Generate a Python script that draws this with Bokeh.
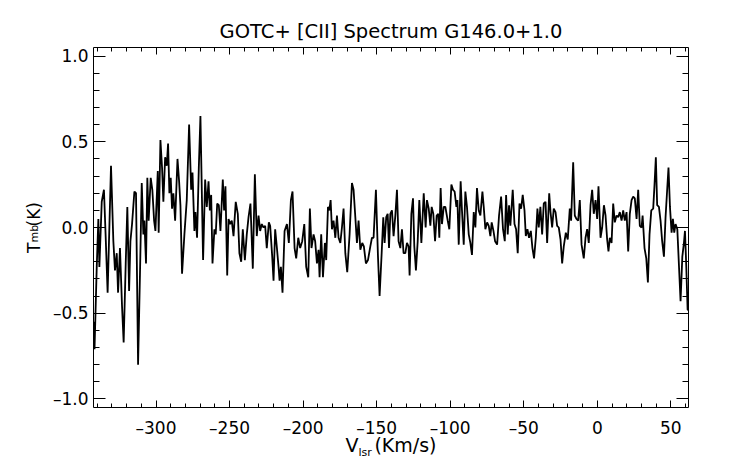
from bokeh.plotting import figure
from bokeh.models import Range1d, LinearAxis, FixedTicker, Title
from bokeh.embed import file_html
from bokeh.resources import INLINE

# ---- data ----
vel_a = [-342.5,-341.8,-340.3,-339.2,-338.5,-336.9,-335.4,-334.2,-332.9,-330.6,-329.0,-327.9,-326.7,-325.8,-324.5,-323.1,-322.0,-320.6,-319.5,-318.3,-317.4,-316.3,-314.7,-313.6,-312.2,-310.9,-309.7,-308.6,-307.9,-306.8,-305.9,-305.0,-303.6,-302.5,-301.3,-300.4,-298.8,-298.2,-297.0,-295.9,-295.0,-293.8,-292.7,-291.8,-290.9,-290.0,-289.1,-288.2,-287.0,-285.4,-284.3,-283.4,-282.3,-280.7,-279.1,-277.5,-276.1,-275.2,-273.9,-273.2,-272.1,-270.9,-269.8,-268.0,-266.6,-265.5,-264.3,-263.4,-262.5,-261.6,-260.3,-259.4,-258.4,-257.3,-256.2,-254.6,-253.7,-252.8,-251.6,-250.7,-249.6,-248.5,-247.3,-245.8,-244.4,-243.3,-242.1,-241.0,-239.6,-238.3]
tmb_a = [-0.55,-0.71,-0.23,0.05,-0.23,0.15,0.22,-0.06,-0.38,0.36,-0.08,-0.25,-0.15,-0.38,-0.12,-0.46,-0.67,-0.21,0.12,-0.37,-0.08,0.02,0.21,0.20,-0.80,-0.27,0.26,-0.04,0.04,-0.21,0.29,0.04,0.29,0.22,0.04,-0.02,0.33,-0.03,0.51,0.35,0.15,0.41,0.36,0.49,0.20,0.29,0.11,0.20,0.04,0.40,0.27,0.13,-0.27,-0.04,0.16,0.60,0.22,0.32,-0.02,0.09,-0.06,0.35,0.65,-0.19,0.28,0.12,0.27,0.10,0.19,-0.21,-0.01,-0.04,0.14,0.13,-0.02,0.28,0.10,0.24,-0.28,0.05,0.02,0.04,-0.05,0.15,0.08,-0.15,-0.20,-0.01,-0.19,-0.04]

vel_b = [-237.1,-235.8,-234.2,-232.8,-231.5,-230.3,-229.2,-228.1,-226.9,-225.8,-224.7,-223.3,-222.4,-221.0,-220.1,-219.0,-217.8,-216.7,-216.0,-215.1,-214.0,-212.6,-211.0,-209.7,-208.3,-207.2,-205.8,-204.7,-203.3,-202.0,-200.6,-199.2,-197.9,-196.5,-195.4,-194.3,-192.9,-191.8,-190.6,-189.5,-188.8,-187.7,-186.5,-185.2,-184.3,-183.1,-182.2,-181.3,-180.4,-179.3,-178.1,-177.0,-175.9,-174.7,-173.6,-172.5,-171.3,-170.0,-168.4,-166.8,-165.7,-164.5,-163.4,-162.3,-161.1,-159.8,-158.7,-157.3,-155.9,-154.3,-153.2,-152.1,-150.5,-149.1,-148.0,-146.6,-145.5,-144.6,-143.5,-142.5,-141.6]
tmb_b = [0.06,0.14,-0.24,0.31,-0.05,0.07,-0.02,0.02,0.00,0.01,-0.12,0.03,0.01,-0.17,-0.31,-0.01,-0.12,-0.23,-0.31,-0.23,-0.38,-0.02,0.02,-0.09,0.16,0.21,-0.12,-0.18,-0.06,-0.12,-0.08,0.02,-0.23,-0.29,0.11,-0.12,-0.04,-0.08,-0.21,-0.13,-0.29,-0.04,-0.29,-0.09,-0.19,0.12,0.10,0.16,-0.01,0.04,-0.06,0.07,-0.06,-0.09,0.00,0.11,-0.15,-0.26,-0.04,0.26,0.22,0.06,-0.09,0.04,-0.13,-0.09,-0.11,-0.21,-0.19,-0.11,-0.06,-0.06,0.22,-0.17,-0.40,-0.15,0.06,-0.09,0.06,0.08,-0.12]

vel_c = [-140.7,-139.6,-138.5,-137.3,-136.2,-135.1,-133.9,-132.8,-131.7,-130.5,-129.4,-128.3,-127.6,-126.4,-125.3,-124.4,-123.3,-122.1,-121.0,-119.6,-118.0,-116.7,-115.8,-114.6,-113.5,-112.6,-111.5,-110.3,-109.2,-108.1,-107.4,-106.5,-105.6,-104.4,-103.3,-101.7,-100.6,-99.2,-98.1,-97.0,-95.8,-95.1,-94.2,-92.9,-92.0,-90.8,-89.7,-88.6,-87.4,-86.3,-85.2,-84.0,-82.9,-81.8,-80.6,-79.5,-78.1,-77.2,-76.1,-74.9,-73.8,-72.7,-71.8,-70.6,-69.5,-68.1,-66.8,-65.4,-64.1,-62.9,-62.0,-60.9,-60.0,-59.1,-57.5,-56.3,-55.2,-54.1,-52.9,-51.8,-50.7,-49.5,-48.6,-47.5,-46.4,-45.2,-44.1,-43.0,-41.8,-40.7,-39.8]
tmb_c = [0.08,0.10,-0.05,0.07,0.22,-0.08,-0.12,-0.01,-0.15,-0.15,-0.09,-0.11,-0.28,0.08,0.17,-0.11,-0.25,-0.08,0.16,-0.09,0.20,0.00,0.16,0.11,0.01,0.12,0.08,-0.08,0.07,0.08,-0.06,0.23,0.02,0.12,0.12,0.04,-0.01,0.25,0.22,0.21,0.12,0.16,-0.10,0.27,0.10,-0.10,0.21,0.12,-0.04,-0.09,-0.16,0.09,0.00,0.23,0.10,0.07,0.21,0.12,-0.01,0.03,0.01,-0.05,0.03,-0.02,-0.08,-0.10,0.07,0.18,-0.01,-0.08,0.19,-0.04,0.13,0.01,0.22,0.02,-0.01,-0.15,0.14,0.11,0.19,0.10,-0.05,-0.01,-0.06,-0.02,-0.12,-0.18,-0.06,0.11,0.00]

vel_d = [-38.7,-37.5,-36.4,-35.2,-34.1,-32.7,-31.8,-30.7,-29.6,-28.4,-27.3,-26.2,-25.0,-23.9,-22.8,-21.4,-20.1,-18.7,-17.8,-16.4,-15.3,-14.2,-13.0,-11.9,-10.7,-9.2,-8.0,-6.9,-5.8,-4.6,-3.5,-2.4,-1.2,-0.1,0.8,2.2,3.3,4.5,5.6,6.7,7.6,8.5,9.7,10.8,11.9,13.1,14.2,15.3,16.5,17.6,18.7,19.9,21.0,22.1,23.3,24.4,25.5,26.7,27.8,28.9,30.1,30.8,32.1,33.3,34.4,35.5,36.7,38.0,38.9,39.8,40.7,41.9,43.0,44.1,45.3,46.4,47.5,48.4,49.4,50.5,51.4,52.3,53.2,54.4,55.5,56.6,57.8,58.9,59.6,60.5,61.4,62.0]
tmb_d = [0.12,-0.04,0.14,0.15,-0.09,0.20,0.09,0.00,0.11,0.09,0.01,0.00,-0.07,-0.21,-0.11,-0.03,-0.07,0.11,0.04,0.38,0.07,0.05,0.04,0.16,-0.10,-0.18,-0.06,-0.01,-0.09,0.13,0.22,0.08,0.16,0.05,0.24,-0.06,0.00,0.13,0.07,-0.07,-0.14,-0.06,-0.09,0.14,0.03,0.07,0.06,0.09,0.04,0.10,0.04,0.09,-0.14,0.08,0.16,0.18,0.17,0.05,0.22,0.01,0.00,0.07,-0.12,-0.18,-0.32,-0.04,0.10,0.11,0.25,0.41,0.13,0.12,0.04,-0.08,-0.17,0.06,0.22,0.35,0.12,-0.03,0.05,-0.03,0.02,-0.01,-0.22,-0.43,-0.17,-0.09,-0.02,-0.23,-0.48,-0.48]

x_major = [-300, -250, -200, -150, -100, -50, 0, 50]
x_tick_labels = ["\u2013300", "\u2013250", "\u2013200", "\u2013150", "\u2013100", "\u201350", "0", "50"]
x_minor = list(range(-340, 61, 10))
y_major = [-1.0, -0.5, 0.0, 0.5, 1.0]
y_tick_labels = ["\u20131.0", "\u20130.5", "0.0", "0.5", "1.0"]
y_minor = [round(-1.0 + 0.1 * i, 1) for i in range(21)]

title_text = "GOTC+ [CII] Spectrum G146.0+1.0"
# no-break spaces keep room for the subscripts (plain spaces collapse in SVG)
x_label_main = "V\u00a0\u00a0\u2009(Km/s)"
x_label_sub = "lsr"
y_label_main = "T\u00a0\u00a0\u00a0(K)"
y_label_sub = "mb"

for a, b in [(vel_a, tmb_a), (vel_b, tmb_b), (vel_c, tmb_c), (vel_d, tmb_d)]:
    assert len(a) == len(b), (len(a), len(b))

vel = vel_a + vel_b + vel_c + vel_d
tmb = tmb_a + tmb_b + tmb_c + tmb_d

FONT = "DejaVu Sans"

p = figure(width=742, height=464, output_backend="svg", toolbar_location=None,
           x_axis_type=None, y_axis_type=None,
           x_range=Range1d(-342.5, 62.0), y_range=Range1d(-1.05, 1.05),
           min_border_left=93, min_border_right=54, min_border_top=47, min_border_bottom=57)
p.outline_line_color = None
p.background_fill_color = "white"
p.border_fill_color = "white"

# title
p.title.text = title_text
p.title.align = "center"
p.title.text_font = FONT
p.title.text_font_size = "19.5px"
p.title.text_font_style = "normal"
p.title.text_color = "black"
p.title.standoff = 10


def make_axis(ticks, minor, labels, tick_len, minor_len, show_labels, standoff):
    ax = LinearAxis(ticker=FixedTicker(ticks=ticks, minor_ticks=minor))
    ax.major_tick_in = tick_len
    ax.major_tick_out = 0
    ax.minor_tick_in = minor_len
    ax.minor_tick_out = 0
    ax.axis_line_color = "black"
    ax.axis_line_width = 1
    ax.major_tick_line_color = "black"
    ax.minor_tick_line_color = "black"
    ax.major_label_text_font = FONT
    ax.major_label_text_color = "black"
    ax.major_label_standoff = standoff
    if show_labels:
        ax.major_label_text_font_size = "17px"
        ax.major_label_overrides = {t: s for t, s in zip(ticks, labels)}
    else:
        ax.major_label_text_font_size = "0px"
        ax.major_label_overrides = {t: "" for t in ticks}
    return ax


xb = make_axis(x_major, x_minor, x_tick_labels, 7, 4, True, 10)
xb.axis_label = x_label_main
xb.axis_label_text_font = FONT
xb.axis_label_text_font_size = "19px"
xb.axis_label_text_font_style = "normal"
xb.axis_label_text_color = "black"
xb.axis_label_standoff = -7
p.add_layout(xb, "below")
p.add_layout(make_axis(x_major, x_minor, x_tick_labels, 7, 4, False, 0), "above")

yl = make_axis(y_major, y_minor, y_tick_labels, 12, 6, True, 5)
yl.axis_label = y_label_main
yl.axis_label_text_font = FONT
yl.axis_label_text_font_size = "17px"
yl.axis_label_text_font_style = "normal"
yl.axis_label_text_color = "black"
yl.axis_label_standoff = 6
p.add_layout(yl, "left")
p.add_layout(make_axis(y_major, y_minor, y_tick_labels, 12, 6, False, 0), "right")

# subscripts of the axis labels
p.add_layout(Title(text=x_label_sub, align="left", offset=265, vertical_align="top", standoff=-25,
                   text_font=FONT, text_font_size="11px", text_font_style="normal",
                   text_color="black"), "below")
p.add_layout(Title(text=y_label_sub, align="left", offset=165, vertical_align="bottom", standoff=-40,
                   text_font=FONT, text_font_size="11px", text_font_style="normal",
                   text_color="black"), "left")

p.line(vel, tmb, line_color="black", line_width=1.8)

open("out.html", "w").write(file_html(p, INLINE))
